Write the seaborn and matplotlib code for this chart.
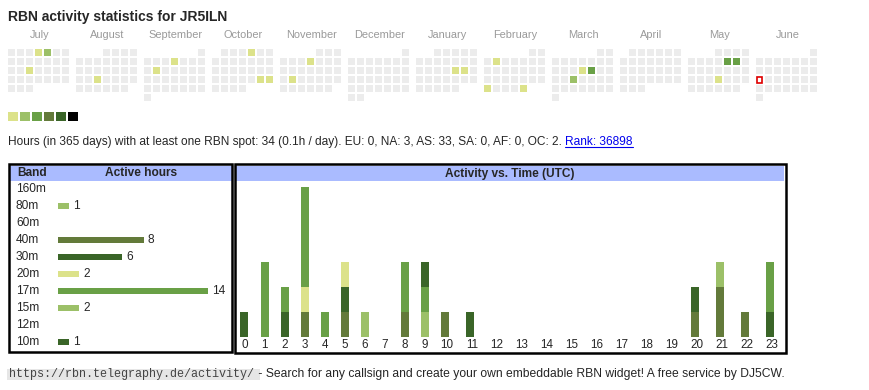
#!/usr/bin/env python
# coding: utf-8

# RBN activity widget for one callsign - calendar, band table and hourly activity

import numpy as np
import pandas as pd
import matplotlib
matplotlib.use('Agg')
import matplotlib.pyplot as plt
import matplotlib.transforms as mtransforms
from matplotlib.colors import ListedColormap
from matplotlib.patches import Rectangle
import seaborn as sns

# --- data ---
callsign = 'JR5ILN'
months = ['July', 'August', 'September', 'October', 'November', 'December',
          'January', 'February', 'March', 'April', 'May', 'June']
month_starts = ['2024-07-01', '2024-08-01', '2024-09-01', '2024-10-01', '2024-11-01', '2024-12-01',
                '2025-01-01', '2025-02-01', '2025-03-01', '2025-04-01', '2025-05-01', '2025-06-01']
active_days = ['2024-07-04', '2024-07-05', '2024-07-17', '2024-08-21', '2024-09-05', '2024-09-10',
               '2024-10-04', '2024-10-26', '2024-10-27', '2024-11-07', '2024-11-19', '2025-01-17',
               '2025-01-18', '2025-02-04', '2025-02-24', '2025-02-28', '2025-03-13', '2025-03-14',
               '2025-03-19', '2025-05-09', '2025-05-10', '2025-05-22']
active_levels = [1, 2, 1, 1, 1, 1, 1, 1, 1, 1, 1, 1, 1, 1, 1, 1, 1, 3, 2, 3, 3, 1]
today = '2025-06-16'

level_colors = ['#dce28a', '#9cc068', '#69a046', '#637a3a', '#3a6528', '#000000']
empty_color = '#ececec'

continents = ['EU', 'NA', 'AS', 'SA', 'AF', 'OC']
continent_hours = [0, 3, 33, 0, 0, 2]
rank = 36898

bands = ['160m', '80m', '60m', '40m', '30m', '20m', '17m', '15m', '12m', '10m']
band_hours = [0, 1, 0, 8, 6, 2, 14, 2, 0, 1]
band_colors = ['#dce28a', '#9cc068', '#69a046', '#637a3a', '#3a6528',
               '#dce28a', '#69a046', '#9cc068', '#637a3a', '#3a6528']

hours = list(range(24))
hourly = {
    '160m': [0] * 24,
    '80m':  [0, 0, 0, 0, 0, 0, 0, 0, 0, 1, 0, 0, 0, 0, 0, 0, 0, 0, 0, 0, 0, 0, 0, 0],
    '60m':  [0] * 24,
    '40m':  [0, 0, 0, 1, 0, 1, 0, 0, 1, 0, 1, 0, 0, 0, 0, 0, 0, 0, 0, 0, 1, 2, 1, 0],
    '30m':  [1, 0, 1, 0, 0, 1, 0, 0, 0, 0, 0, 1, 0, 0, 0, 0, 0, 0, 0, 0, 1, 0, 0, 1],
    '20m':  [0, 0, 0, 1, 0, 1, 0, 0, 0, 0, 0, 0, 0, 0, 0, 0, 0, 0, 0, 0, 0, 0, 0, 0],
    '17m':  [0, 3, 1, 4, 1, 0, 0, 0, 2, 1, 0, 0, 0, 0, 0, 0, 0, 0, 0, 0, 0, 0, 0, 2],
    '15m':  [0, 0, 0, 0, 0, 0, 1, 0, 0, 0, 0, 0, 0, 0, 0, 0, 0, 0, 0, 0, 0, 1, 0, 0],
    '12m':  [0] * 24,
    '10m':  [0, 0, 0, 0, 0, 0, 0, 0, 0, 1, 0, 0, 0, 0, 0, 0, 0, 0, 0, 0, 0, 0, 0, 0],
}

# --- figure in pixel units ---
sns.set_theme(style='white')
plt.rcParams['font.family'] = ['Liberation Sans', 'DejaVu Sans']

W, H = 870, 390
fig = plt.figure(figsize=(W / 100, H / 100), dpi=100)
fig.patch.set_facecolor('white')


def px_axes(x, y, w, h):
    return fig.add_axes([x / W, 1 - (y + h) / H, w / W, h / H])


page = px_axes(0, 0, W, H)
page.set_xlim(0, W)
page.set_ylim(H, 0)
page.axis('off')

page.text(8, 17, f'RBN activity statistics for {callsign}', fontsize=10.0,
          fontweight='bold', va='center')

# --- calendar: one small heatmap per month, weeks as rows, Mon..Sun as columns ---
level_of = dict(zip(pd.to_datetime(active_days), active_levels))
cal_cmap = ListedColormap([empty_color] + level_colors)
today_ts = pd.Timestamp(today)

for i, (name, start) in enumerate(zip(months, month_starts)):
    first = pd.Timestamp(start)
    days = pd.date_range(first, first + pd.offsets.MonthEnd(0))
    grid = np.full((6, 7), np.nan)
    for d in days:
        grid[(d.day - 1 + first.weekday()) // 7, d.weekday()] = level_of.get(d, 0)

    x0 = 7.3 + 68 * i
    page.text(x0 + 32, 35, name, ha='center', va='center', color='#9a9a9a', fontsize=7.9)
    ax = px_axes(x0, 48.3, 63, 54)
    sns.heatmap(grid, ax=ax, cmap=cal_cmap, vmin=-0.5, vmax=6.5, cbar=False,
                linewidths=1.44, linecolor='white', xticklabels=False, yticklabels=False)
    ax.set_facecolor('white')
    if today_ts in days:
        r = (today_ts.day - 1 + first.weekday()) // 7
        c = today_ts.weekday()
        ax.add_patch(Rectangle((c + 0.2, r + 0.2), 0.6, 0.6, facecolor='white',
                               edgecolor='#e00000', lw=1.2))

# colour legend
for i, c in enumerate(level_colors):
    page.add_patch(Rectangle((8 + 12 * i, 111.5), 10, 9.2, color=c, lw=0))

# --- summary line ---
total = sum(band_hours)
cont_txt = ', '.join(f'{k}: {v}' for k, v in zip(continents, continent_hours))
summary = page.text(8, 142, f'Hours (in 365 days) with at least one RBN spot: {total} '
                    f'({total / 365:.1f}h / day). {cont_txt}. ', va='center', fontsize=8.6)
fig.canvas.draw()
x_rank = summary.get_window_extent().x1
rank_txt = page.text(x_rank, 142, f'Rank: {rank}', va='center', fontsize=8.6, color='#0000ee')
fig.canvas.draw()
rb = rank_txt.get_window_extent()
page.plot([rb.x0, rb.x1], [147.3, 147.3], color='#0000ee', lw=0.8)

# --- band table ---
page.add_patch(Rectangle((10, 165.5), 222, 15.5, color='#aabbff', lw=0))
page.text(17, 173.5, 'Band', fontweight='bold', va='center', fontsize=8.6)
page.text(141, 173.5, 'Active hours', fontweight='bold', va='center', ha='center', fontsize=8.6)

band_ax = px_axes(58, 180.5, 172, 170)
sns.barplot(x=band_hours, y=bands, hue=bands, palette=band_colors, legend=False,
            orient='h', width=0.41, dodge=False, saturation=1, linewidth=0, ax=band_ax)
band_ax.set_xlim(0, 172 / 10.7)
band_ax.set_ylim(len(bands) - 0.5, -0.5)
band_ax.axis('off')
to_label = mtransforms.blended_transform_factory(page.transData, band_ax.transData)
for i, (b, v) in enumerate(zip(bands, band_hours)):
    band_ax.text(16, i, b, transform=to_label, va='center', fontsize=8.6)
    if v > 0:
        band_ax.text(v + 0.37, i, str(v), va='center', fontsize=8.6)

# --- activity vs time: stacked bars, columns widen for two-digit hours ---
page.add_patch(Rectangle((235, 165.5), 549, 15.5, color='#aabbff', lw=0))
page.text(510, 173.5, 'Activity vs. Time (UTC)', fontweight='bold', va='center',
          ha='center', fontsize=8.6)

col_w = np.array([20 if h < 10 else 25 for h in hours])
col_left = np.concatenate([[0], np.cumsum(col_w)[:-1]])
act_ax = px_axes(235, 181, 550, 156)
bottom = np.zeros(len(hours))
for b, c in zip(bands, band_colors):
    counts = np.array(hourly[b])
    act_ax.bar(col_left + 5.5, counts, width=8, bottom=bottom, color=c, align='edge', lw=0)
    bottom += counts
act_ax.set_xlim(0, 550)
act_ax.set_ylim(0, 156 / 25)
act_ax.axis('off')
for h, x in zip(hours, col_left + col_w / 2 - 0.5):
    act_ax.text(x, -0.33, str(h), ha='center', va='center', fontsize=8.4)

# --- footer ---
page.add_patch(Rectangle((7, 368.5), 253, 11, color='#e6e6e6', lw=0))
url = page.text(9, 374, 'https://rbn.telegraphy.de/activity/', family='Liberation Mono',
                fontsize=8.5, color='#444444', va='center')
fig.canvas.draw()
page.text(url.get_window_extent().x1 + 1, 374,
          ' - Search for any callsign and create your own embeddable RBN widget! '
          'A free service by DJ5CW.',
          family=['Liberation Sans Narrow', 'Liberation Sans'], fontsize=8.7, va='center')

# --- table borders on top ---
frame = px_axes(0, 0, W, H)
frame.set_xlim(0, W)
frame.set_ylim(H, 0)
frame.axis('off')
frame.add_patch(Rectangle((9.3, 164.3), 222.4, 187.4, fill=False, edgecolor='black', lw=1.8))
frame.add_patch(Rectangle((235.3, 164.3), 550.4, 188.9, fill=False, edgecolor='black', lw=1.8))

plt.savefig('out.png', dpi=100)
